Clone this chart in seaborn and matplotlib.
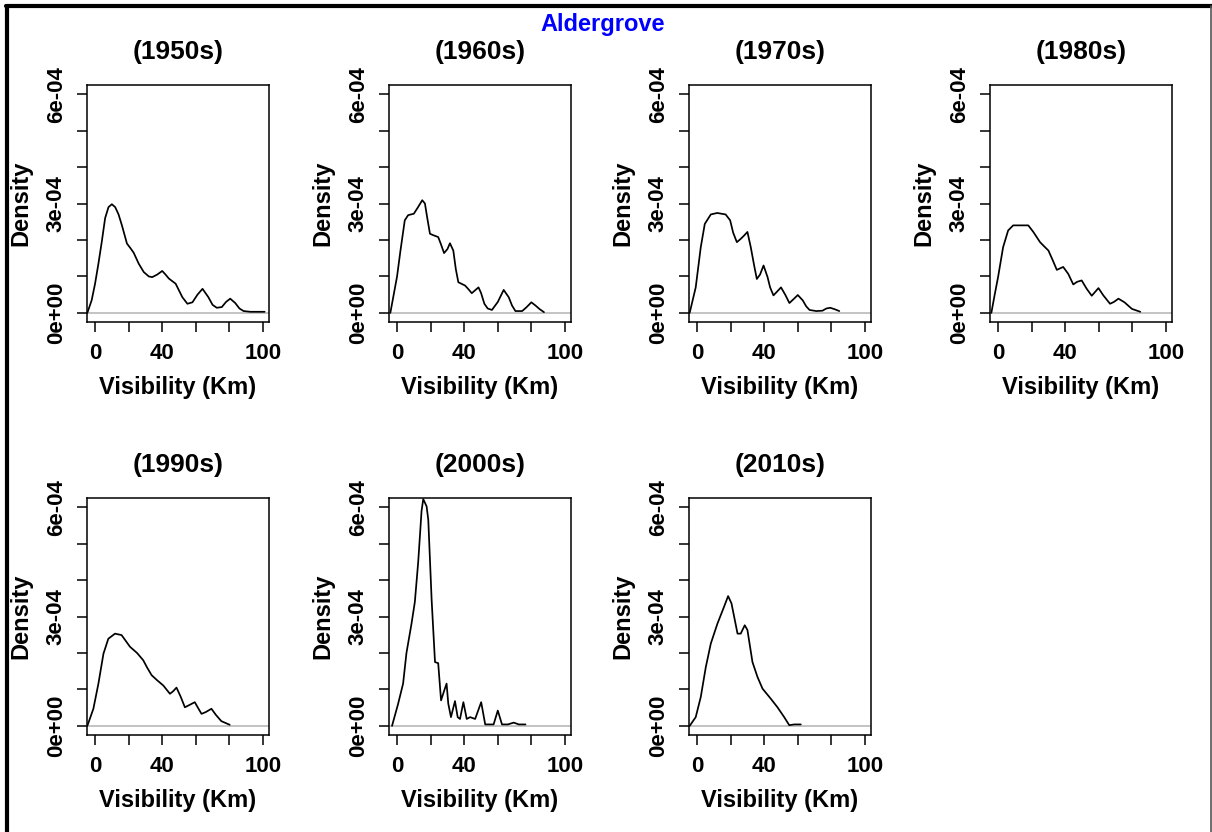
import numpy as np
import matplotlib
matplotlib.use("Agg")
import matplotlib.pyplot as plt
import seaborn as sns
from matplotlib.lines import Line2D

sns.set_style("ticks")
plt.rcParams['font.family'] = ['Liberation Sans', 'DejaVu Sans']
plt.rcParams['font.weight'] = 'bold'
plt.rcParams['text.color'] = 'black'
plt.rcParams['axes.labelcolor'] = 'black'
plt.rcParams['xtick.color'] = 'black'
plt.rcParams['ytick.color'] = 'black'

# density curves (visibility in km, density in units of 1e-4)
decades = ["(1950s)", "(1960s)", "(1970s)", "(1980s)", "(1990s)", "(2000s)", "(2010s)"]

vis_1950s = [-4.6, -2, 0, 2, 4, 6, 8, 10, 12, 14, 16, 19, 21, 23, 26, 29, 32, 34, 37, 40, 42, 44, 48,
             52, 55, 58, 61, 64, 67.5, 70, 72.5, 75.5, 78, 80.5, 83.5, 86, 88.5, 92.5, 101]
dens_1950s = [0, 0.35, 0.8, 1.35, 1.95, 2.6, 2.9, 2.98, 2.9, 2.7, 2.4, 1.9, 1.78, 1.65, 1.35, 1.12, 1.0,
              0.98, 1.05, 1.15, 1.05, 0.94, 0.8, 0.43, 0.25, 0.29, 0.5, 0.66, 0.43, 0.22, 0.14, 0.16,
              0.3, 0.39, 0.27, 0.12, 0.05, 0.03, 0.03]

vis_1960s = [-4, -2, 0, 2, 4.6, 6.6, 10, 12.5, 15, 16.6, 18, 19.6, 21.6, 24.5, 26, 28, 30, 31.5, 33.5,
             35, 36.5, 40.5, 42.5, 44.5, 48.5, 50, 52, 54, 56.5, 60, 63.5, 66.5, 68.5, 70.5, 74.5, 77,
             80, 82.5, 85, 87.5]
dens_1960s = [0, 0.5, 1.0, 1.7, 2.54, 2.68, 2.72, 2.9, 3.09, 3.0, 2.6, 2.17, 2.13, 2.08, 1.9, 1.64,
              1.75, 1.91, 1.71, 1.2, 0.84, 0.75, 0.65, 0.54, 0.70, 0.55, 0.25, 0.12, 0.08, 0.3, 0.63,
              0.43, 0.2, 0.05, 0.05, 0.15, 0.29, 0.2, 0.1, 0.02]

vis_1970s = [-4.4, -0.8, 2.2, 4.6, 8.2, 12, 17, 19.7, 21.5, 23.7, 26, 28, 30, 32, 34, 35.6, 37.5, 39.6,
             42, 43.5, 45.5, 48, 50, 52.5, 55, 58, 60, 63, 65, 67, 71, 74.7, 77, 79.3, 82, 84.7]
dens_1970s = [0, 0.7, 1.8, 2.44, 2.7, 2.74, 2.7, 2.54, 2.2, 1.94, 2.03, 2.12, 2.22, 1.8, 1.3, 0.93,
              1.05, 1.3, 0.98, 0.7, 0.48, 0.6, 0.7, 0.5, 0.27, 0.4, 0.49, 0.34, 0.18, 0.08, 0.05,
              0.06, 0.12, 0.14, 0.1, 0.05]

vis_1980s = [-4, -2, 0, 3, 6, 9, 12, 15, 18, 21, 25, 28, 30, 32.5, 35, 38.8, 41.8, 44.8, 47, 49.8,
             52.8, 55.8, 59.8, 62.7, 66.7, 69, 71.7, 75.3, 79.7, 84.7]
dens_1980s = [0, 0.5, 0.98, 1.8, 2.26, 2.4, 2.4, 2.4, 2.4, 2.22, 1.94, 1.8, 1.71, 1.45, 1.18, 1.26,
              1.07, 0.78, 0.85, 0.89, 0.66, 0.47, 0.68, 0.48, 0.25, 0.3, 0.39, 0.29, 0.11, 0.03]

vis_1990s = [-4.6, -1, 2, 5, 7.9, 11.9, 15.8, 20.8, 25, 28.7, 31, 33.7, 37, 40.6, 44.6, 46.5, 48.5,
             51, 53.5, 56.5, 59.4, 61.5, 63.4, 66, 69.3, 72, 75.2, 80.2]
dens_1990s = [0, 0.47, 1.16, 1.98, 2.39, 2.53, 2.49, 2.17, 2.0, 1.8, 1.6, 1.39, 1.25, 1.11, 0.88,
              0.95, 1.05, 0.8, 0.51, 0.58, 0.65, 0.48, 0.33, 0.38, 0.47, 0.3, 0.13, 0.03]

vis_2000s = [-3, 0.6, 3.6, 5.6, 8.6, 10.6, 12.6, 14.6, 15.6, 17.6, 18.6, 20.6, 22.6, 24.5, 26.2,
             28.1, 29.5, 30.5, 32.1, 34.5, 36.1, 37.5, 39.5, 41.5, 43.5, 46.5, 50.1, 52.5, 57.5, 60,
             62.5, 66, 69.5, 72.5, 76.5]
dens_2000s = [0, 0.6, 1.16, 2.0, 2.8, 3.4, 4.5, 5.9, 6.22, 6.02, 5.65, 3.45, 1.75, 1.72, 0.7, 0.97,
              1.16, 0.61, 0.24, 0.68, 0.24, 0.19, 0.65, 0.19, 0.24, 0.19, 0.65, 0.04, 0.04, 0.42,
              0.04, 0.04, 0.09, 0.04, 0.04]

vis_2010s = [-4.4, -0.8, 2.2, 5.2, 8.2, 12.1, 16.1, 18.5, 20.5, 22.5, 24.1, 26, 28.4, 30, 33, 36, 39,
             41.5, 44, 47.9, 51.9, 54.9, 58, 61.8]
dens_2010s = [0, 0.24, 0.79, 1.61, 2.26, 2.8, 3.27, 3.56, 3.36, 2.9, 2.53, 2.53, 2.76, 2.63, 1.75,
              1.34, 1.02, 0.88, 0.74, 0.51, 0.24, 0.02, 0.04, 0.04]

curves = [(vis_1950s, dens_1950s), (vis_1960s, dens_1960s), (vis_1970s, dens_1970s),
          (vis_1980s, dens_1980s), (vis_1990s, dens_1990s), (vis_2000s, dens_2000s),
          (vis_2010s, dens_2010s)]

x_ticks = [0, 20, 40, 60, 80, 100]
x_ticklabels = ["0", "", "40", "", "", "100"]
y_ticks = [0, 1e-4, 2e-4, 3e-4, 4e-4, 5e-4, 6e-4]
y_ticklabels = ["0e+00", "", "", "3e-04", "", "", "6e-04"]

W, H = 1212, 832
fig = plt.figure(figsize=(W / 100, H / 100), dpi=100)

col_left = [87, 389, 689, 990]
row_top = [85, 498]
ax_w, ax_h = 182, 237

for i, (label, (vis, dens)) in enumerate(zip(decades, curves)):
    r, c = divmod(i, 4)
    left = col_left[c] / W
    bottom = 1 - (row_top[r] + ax_h) / H
    ax = fig.add_axes([left, bottom, ax_w / W, ax_h / H])
    ax.axhline(0, color="#bebebe", lw=1.3, zorder=1)
    sns.lineplot(x=vis, y=np.array(dens) * 1e-4, ax=ax, color="black", lw=1.25,
                 sort=False, estimator=None, zorder=2)
    ax.lines[-1].set_solid_joinstyle("round")
    ax.set_xlim(-4.8, 103.6)
    ax.set_ylim(-0.25e-4, 6.25e-4)
    ax.set_xticks(x_ticks)
    ax.set_xticklabels(x_ticklabels, fontsize=16, fontweight="bold")
    ax.set_yticks(y_ticks)
    ax.set_yticklabels(y_ticklabels, fontsize=16, fontweight="bold", rotation=90, va="center")
    ax.tick_params(axis="both", length=7, width=1.1, color="black")
    ax.tick_params(axis="x", pad=8)
    ax.tick_params(axis="y", pad=7.5)
    for s in ax.spines.values():
        s.set_visible(True)
        s.set_linewidth(1.1)
        s.set_color("black")
    ax.set_xlabel("Visibility (Km)", fontsize=17, fontweight="bold", labelpad=9)
    ax.set_ylabel("Density", fontsize=17, fontweight="bold", labelpad=10)
    ax.set_title(label, fontsize=19, fontweight="bold", pad=19)

fig.text(603 / W, 1 - 24 / H, "Aldergrove", color="#0000ff", fontsize=17,
         fontweight="bold", ha="center", va="center")

# frame around the page
fig.add_artist(Line2D([7 / W, 7 / W], [0, 1 - 5.5 / H], color="black", lw=3, transform=fig.transFigure))
fig.add_artist(Line2D([5.5 / W, 1], [1 - 5.5 / H, 1 - 5.5 / H], color="black", lw=3, transform=fig.transFigure))
fig.add_artist(Line2D([1211 / W, 1211 / W], [0, 1 - 5.5 / H], color="#555555", lw=1.2, transform=fig.transFigure))

fig.savefig("out.png", dpi=100)
